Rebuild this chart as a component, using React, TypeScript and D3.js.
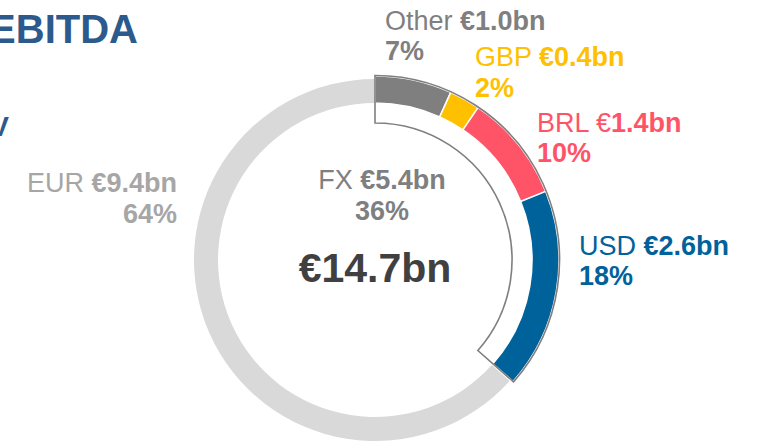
import React from "react";
import * as d3 from "d3";

const categories = ["Other", "GBP", "BRL", "USD", "EUR"];
const values = [1.0, 0.4, 1.4, 2.6, 9.4];
const colors = ["#7f7f7f", "#ffc000", "#ff5468", "#00629b", "#d9d9d9"];
const valueLabels = ["€1.0bn", "€0.4bn", "€1.4bn", "€2.6bn", "€9.4bn"];
const pctLabels = ["7%", "2%", "10%", "18%", "64%"];
const fxLabel = "€5.4bn";
const fxPct = "36%";
const totalLabel = "€14.7bn";

const W = 761;
const H = 445;
const cx = 375;
const cy = 260;

export default function App() {
  const pie = d3
    .pie<number>()
    .sort(null)
    .startAngle(0)
    .endAngle(2 * Math.PI)
    .value((d) => d);
  const arcsData = pie(values);
  const segArc = d3.arc<d3.PieArcDatum<number>>().innerRadius(157).outerRadius(184);
  const eurArc = d3.arc<d3.PieArcDatum<number>>().innerRadius(157).outerRadius(181);
  const fxEnd = arcsData[3].endAngle;
  const outline = d3.arc()({
    innerRadius: 137,
    outerRadius: 184.5,
    startAngle: 0,
    endAngle: fxEnd,
  } as any) as string;

  const font = "'Liberation Sans', Arial, sans-serif";
  const fs = 27;

  // label layout: [x, baseline1, baseline2, anchor]
  const labelPos: [number, number, number, string][] = [
    [385, 30, 60, "start"],
    [475, 66, 97, "start"],
    [537, 132, 162, "start"],
    [579, 255, 285, "start"],
    [177, 192, 223, "end"],
  ];

  return (
    <svg
      width={W}
      height={H}
      style={{ position: "absolute", left: 0, top: 0, background: "#fff" }}
      fontFamily={font}
    >
      <text x={138} y={43} textAnchor="end" fontSize={40} fontWeight="bold" fill="#2c5a8c">
        EBITDA
      </text>
      <text x={9} y={136} textAnchor="end" fontSize={28} fontWeight="bold" fill="#2c5a8c">
        V
      </text>
      <g transform={`translate(${cx},${cy})`}>
        {arcsData.map((a, i) =>
          i === 4 ? (
            <path key={i} d={eurArc({ ...a, startAngle: a.startAngle + 0.01 }) as string} fill={colors[i]} />
          ) : (
            <path key={i} d={segArc(a) as string} fill={colors[i]} stroke="#fff" strokeWidth={1.5} />
          )
        )}
        <path d={outline} fill="none" stroke="#7f7f7f" strokeWidth={1.6} />
      </g>
      {labelPos.map((p, i) => (
        <g key={i} fill={colors[i] === "#d9d9d9" ? "#a6a6a6" : colors[i]} fontSize={fs}>
          <text x={p[0]} y={p[1]} textAnchor={p[3] as any}>
            {i === 2 ? (
              <>
                <tspan>{categories[i]} €</tspan>
                <tspan fontWeight="bold">{valueLabels[i].slice(1)}</tspan>
              </>
            ) : (
              <>
                <tspan>{categories[i]} </tspan>
                <tspan fontWeight="bold">{valueLabels[i]}</tspan>
              </>
            )}
          </text>
          <text x={p[0]} y={p[2]} textAnchor={p[3] as any} fontWeight="bold">
            {pctLabels[i]}
          </text>
        </g>
      ))}
      <g fill="#7f7f7f" fontSize={fs} textAnchor="middle">
        <text x={382} y={189}>
          <tspan>FX </tspan>
          <tspan fontWeight="bold">{fxLabel}</tspan>
        </text>
        <text x={382} y={220} fontWeight="bold">
          {fxPct}
        </text>
      </g>
      <text x={375} y={282} textAnchor="middle" fontSize={41} fontWeight="bold" fill="#404040">
        {totalLabel}
      </text>
    </svg>
  );
}
